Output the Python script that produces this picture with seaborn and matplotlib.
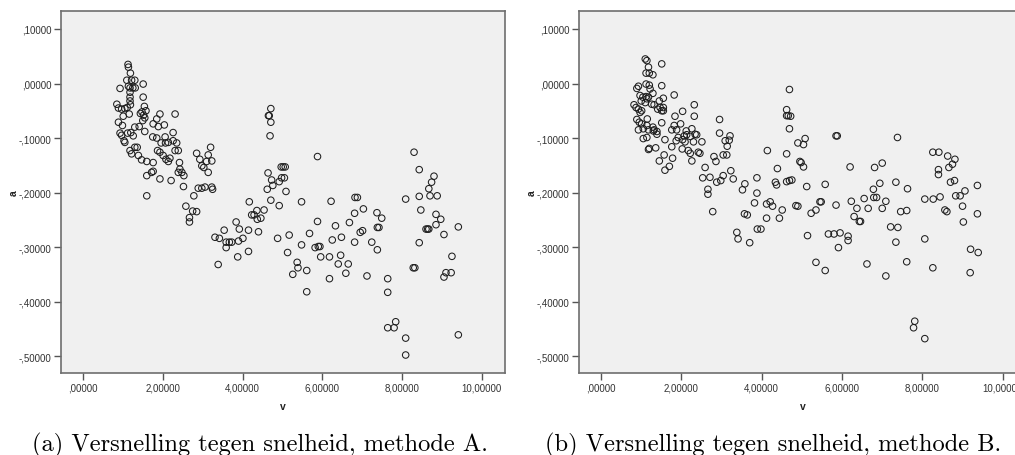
import matplotlib
matplotlib.use("Agg")
import matplotlib.pyplot as plt
import seaborn as sns
import pandas as pd

# ---------------- data ----------------
# Panel (a): methode A
v_a = [1.13, 1.14, 1.19, 1.10, 1.22, 1.30, 0.93, 1.14, 1.18, 1.25,
       1.31, 1.51, 1.18, 1.18, 1.18, 1.19, 1.51, 0.85, 0.89, 0.97,
       1.05, 1.11, 1.01, 1.16, 1.54, 1.58, 1.48, 1.44, 1.52, 1.55,
       1.50, 0.89, 0.99, 0.93, 0.97, 1.03, 1.05, 1.12, 1.20, 1.26,
       1.30, 1.41, 1.55, 1.18, 1.22, 1.30, 1.36, 1.39, 1.47, 1.60,
       1.76, 1.60, 1.72, 1.76, 1.60, 1.76, 1.85, 1.93, 1.89, 2.04,
       2.31, 1.75, 1.85, 2.06, 1.96, 2.07, 2.14, 2.26, 2.35, 2.31,
       2.39, 2.26, 1.87, 1.93, 2.01, 2.08, 2.14, 2.18, 1.93, 2.21,
       2.42, 2.43, 2.48, 2.39, 2.53, 2.52, 2.78, 2.85, 2.93, 2.98,
       3.03, 3.10, 3.14, 3.20, 3.23, 3.14, 2.89, 2.98, 3.06, 3.23,
       3.25, 2.58, 2.75, 2.85, 2.67, 2.67, 3.31, 3.42, 3.54, 3.59,
       3.67, 3.73, 3.59, 3.84, 3.92, 3.90, 4.01, 4.15, 4.15, 3.88,
       3.39, 4.17, 4.23, 4.29, 4.36, 4.37, 4.40, 4.46, 4.54, 4.71,
       4.65, 4.67, 4.71, 4.69, 4.64, 4.62, 4.73, 4.76, 4.71, 4.92,
       4.98, 4.97, 5.02, 5.07, 5.05, 5.09, 4.92, 4.88, 5.17, 5.13,
       5.26, 5.37, 5.39, 5.48, 5.48, 5.61, 5.61, 5.68, 5.88, 5.88,
       5.82, 5.90, 5.94, 5.96, 6.18, 6.18, 6.22, 6.25, 6.33, 6.40,
       6.46, 6.48, 6.59, 6.65, 6.68, 6.81, 6.82, 6.88, 6.81, 6.95,
       7.01, 7.03, 7.12, 7.24, 7.37, 7.38, 7.42, 7.38, 7.49, 7.64,
       7.64, 7.64, 7.80, 7.84, 8.09, 8.09, 8.09, 8.30, 8.28, 8.32,
       8.43, 8.43, 8.47, 8.43, 8.67, 8.74, 8.80, 8.70, 8.88, 8.60,
       8.64, 8.67, 8.85, 8.85, 8.97, 9.05, 9.25, 9.05, 9.10, 9.23,
       9.41, 9.41]
a_a = [0.035, 0.030, 0.019, 0.006, 0.006, 0.006, -0.009, -0.005, -0.008, -0.008,
       -0.008, -0.001, -0.016, -0.025, -0.032, -0.039, -0.025, -0.038, -0.045, -0.047,
       -0.046, -0.044, -0.060, -0.056, -0.042, -0.050, -0.052, -0.055, -0.058, -0.063,
       -0.068, -0.071, -0.077, -0.091, -0.095, -0.105, -0.108, -0.091, -0.090, -0.096,
       -0.080, -0.079, -0.088, -0.123, -0.129, -0.117, -0.117, -0.132, -0.140, -0.143,
       -0.145, -0.169, -0.163, -0.161, -0.206, -0.074, -0.065, -0.056, -0.079, -0.076,
       -0.056, -0.098, -0.100, -0.098, -0.109, -0.109, -0.108, -0.105, -0.109, -0.123,
       -0.123, -0.090, -0.123, -0.126, -0.132, -0.139, -0.143, -0.137, -0.175, -0.178,
       -0.145, -0.157, -0.163, -0.163, -0.169, -0.189, -0.206, -0.128, -0.139, -0.151,
       -0.154, -0.143, -0.131, -0.117, -0.142, -0.163, -0.192, -0.192, -0.190, -0.190,
       -0.194, -0.225, -0.234, -0.235, -0.246, -0.254, -0.282, -0.284, -0.269, -0.291,
       -0.291, -0.291, -0.301, -0.254, -0.267, -0.289, -0.284, -0.269, -0.308, -0.318,
       -0.332, -0.217, -0.241, -0.241, -0.233, -0.249, -0.272, -0.247, -0.232, -0.046,
       -0.059, -0.059, -0.071, -0.096, -0.164, -0.194, -0.177, -0.187, -0.214, -0.180,
       -0.173, -0.153, -0.153, -0.153, -0.173, -0.198, -0.224, -0.284, -0.278, -0.310,
       -0.350, -0.328, -0.338, -0.217, -0.296, -0.343, -0.382, -0.275, -0.134, -0.253,
       -0.301, -0.299, -0.299, -0.318, -0.318, -0.358, -0.216, -0.287, -0.261, -0.331,
       -0.315, -0.282, -0.348, -0.331, -0.255, -0.238, -0.209, -0.209, -0.291, -0.273,
       -0.270, -0.230, -0.353, -0.291, -0.237, -0.264, -0.264, -0.305, -0.247, -0.358,
       -0.383, -0.448, -0.448, -0.437, -0.212, -0.467, -0.498, -0.126, -0.338, -0.338,
       -0.158, -0.207, -0.232, -0.292, -0.193, -0.181, -0.170, -0.206, -0.206, -0.267,
       -0.267, -0.267, -0.240, -0.259, -0.249, -0.277, -0.317, -0.355, -0.347, -0.347,
       -0.263, -0.461]

# Panel (b): methode B
v_b = [1.10, 1.14, 1.51, 1.18, 1.12, 1.20, 1.29, 0.89, 0.93, 1.12,
       1.20, 1.22, 1.51, 0.97, 1.04, 1.12, 1.18, 1.14, 1.29, 1.00,
       1.10, 1.55, 1.45, 1.41, 1.47, 1.55, 1.51, 1.55, 1.32, 1.26,
       0.82, 0.87, 0.93, 0.97, 1.01, 1.82, 0.89, 0.95, 1.01, 0.93,
       1.05, 1.15, 1.14, 1.18, 1.29, 1.32, 1.39, 1.39, 1.30, 1.05,
       1.14, 1.51, 1.20, 1.18, 1.36, 1.59, 1.84, 2.03, 2.32, 2.32,
       1.82, 1.76, 1.88, 1.98, 2.12, 2.07, 1.92, 1.87, 2.03, 2.13,
       2.26, 2.09, 2.22, 2.34, 2.38, 2.30, 2.51, 1.76, 2.02, 2.17,
       2.22, 2.42, 2.46, 2.26, 1.57, 1.45, 1.59, 1.70, 1.78, 2.59,
       2.53, 2.71, 2.81, 2.86, 3.04, 3.13, 2.95, 2.95, 3.09, 3.19,
       3.21, 3.14, 2.88, 2.98, 3.04, 3.23, 3.29, 2.66, 2.66, 3.52,
       3.58, 3.88, 3.88, 4.14, 2.78, 3.57, 3.64, 3.82, 4.12, 4.12,
       3.89, 3.98, 3.38, 3.41, 3.70, 4.69, 4.62, 4.62, 4.66, 4.72,
       4.69, 4.62, 4.90, 5.04, 5.08, 4.95, 4.98, 5.04, 4.39, 4.62,
       4.69, 4.75, 4.34, 4.37, 5.12, 5.58, 4.21, 4.27, 4.51, 4.44,
       4.85, 4.90, 5.23, 5.35, 5.45, 5.48, 5.85, 5.88, 5.14, 5.35,
       5.58, 5.66, 5.80, 5.95, 5.85, 5.91, 6.15, 6.15, 6.20, 6.23,
       6.30, 6.37, 6.43, 6.46, 6.55, 6.62, 6.65, 6.78, 6.81, 6.79,
       6.86, 6.94, 7.00, 7.00, 7.09, 7.09, 7.21, 7.34, 7.34, 7.38,
       7.39, 7.46, 7.61, 7.63, 7.61, 7.78, 7.81, 8.06, 8.06, 8.06,
       8.26, 8.41, 8.27, 8.26, 8.40, 8.40, 8.44, 8.63, 8.66, 8.75,
       8.81, 8.70, 8.80, 8.83, 8.94, 9.06, 8.56, 8.61, 9.00, 9.02,
       9.37, 9.37, 9.20, 9.39, 9.19]
a_b = [0.045, 0.042, 0.036, 0.030, 0.019, 0.019, 0.016, -0.009, -0.005, -0.001,
       -0.003, -0.010, -0.004, -0.022, -0.025, -0.024, -0.025, -0.028, -0.018, -0.032,
       -0.035, -0.027, -0.032, -0.047, -0.044, -0.044, -0.050, -0.050, -0.039, -0.038,
       -0.039, -0.044, -0.047, -0.053, -0.050, -0.021, -0.066, -0.071, -0.074, -0.085,
       -0.083, -0.065, -0.077, -0.085, -0.080, -0.085, -0.088, -0.093, -0.087, -0.101,
       -0.099, -0.072, -0.119, -0.121, -0.118, -0.103, -0.060, -0.051, -0.039, -0.060,
       -0.077, -0.085, -0.085, -0.074, -0.087, -0.096, -0.099, -0.105, -0.103, -0.094,
       -0.083, -0.107, -0.097, -0.093, -0.094, -0.107, -0.107, -0.116, -0.120, -0.123,
       -0.128, -0.126, -0.128, -0.142, -0.131, -0.142, -0.159, -0.152, -0.137, -0.154,
       -0.173, -0.172, -0.134, -0.143, -0.131, -0.131, -0.066, -0.091, -0.105, -0.104,
       -0.096, -0.115, -0.181, -0.178, -0.169, -0.160, -0.175, -0.194, -0.203, -0.195,
       -0.184, -0.173, -0.201, -0.123, -0.235, -0.239, -0.241, -0.219, -0.221, -0.247,
       -0.267, -0.267, -0.273, -0.285, -0.292, -0.011, -0.048, -0.059, -0.059, -0.060,
       -0.083, -0.129, -0.109, -0.112, -0.101, -0.143, -0.145, -0.153, -0.156, -0.180,
       -0.178, -0.177, -0.181, -0.186, -0.189, -0.185, -0.217, -0.225, -0.232, -0.247,
       -0.224, -0.225, -0.238, -0.232, -0.217, -0.217, -0.096, -0.096, -0.279, -0.328,
       -0.343, -0.276, -0.276, -0.274, -0.223, -0.301, -0.280, -0.288, -0.153, -0.216,
       -0.244, -0.229, -0.253, -0.253, -0.211, -0.331, -0.229, -0.194, -0.154, -0.209,
       -0.209, -0.183, -0.146, -0.229, -0.216, -0.353, -0.263, -0.181, -0.291, -0.099,
       -0.264, -0.235, -0.233, -0.193, -0.327, -0.448, -0.436, -0.468, -0.212, -0.285,
       -0.126, -0.126, -0.212, -0.338, -0.158, -0.167, -0.208, -0.133, -0.154, -0.148,
       -0.139, -0.181, -0.178, -0.206, -0.206, -0.197, -0.232, -0.235, -0.225, -0.254,
       -0.187, -0.239, -0.304, -0.310, -0.347]

x_ticks = [0, 2, 4, 6, 8, 10]
x_tick_labels = [",00000", "2,00000", "4,00000", "6,00000", "8,00000", "10,00000"]
y_ticks = [0.1, 0.0, -0.1, -0.2, -0.3, -0.4, -0.5]
y_tick_labels = [",10000", ",00000", "-,10000", "-,20000", "-,30000", "-,40000", "-,50000"]
x_label = "v"
y_label = "a"
captions = ["(a) Versnelling tegen snelheid, methode A.",
            "(b) Versnelling tegen snelheid, methode B."]

# ---------------- figure ----------------
sns.set_theme(style="ticks")
plt.rcParams["font.family"] = ["Liberation Sans", "DejaVu Sans"]

W, H = 1015, 456
fig = plt.figure(figsize=(W / 100, H / 100), dpi=100)
fig.patch.set_facecolor("white")


def px_axes(l, t, r, b):
    return fig.add_axes([l / W, 1 - b / H, (r - l) / W, (b - t) / H])


axes = [px_axes(61, 12, 505, 374), px_axes(579, 12, 1026, 374)]
datasets = [(v_a, a_a), (v_b, a_b)]

for ax, (vv, aa) in zip(axes, datasets):
    df = pd.DataFrame({"v": vv, "a": aa})
    sns.scatterplot(data=df, x="v", y="a", ax=ax, s=22, linewidth=0.75,
                    legend=False, zorder=3)
    coll = ax.collections[-1]
    coll.set_facecolor("none")
    coll.set_edgecolor("#1e1e1e")

    ax.set_facecolor("#F0F0F0")
    ax.set_xlim(-0.55, 10.58)
    ax.set_ylim(-0.531, 0.133)
    ax.set_xticks(x_ticks)
    ax.set_xticklabels(x_tick_labels)
    ax.set_yticks(y_ticks)
    ax.set_yticklabels(y_tick_labels)
    ax.tick_params(direction="out", length=5, width=1.0, color="#555555",
                   labelsize=7, labelcolor="#333333", pad=2)
    for sp in ax.spines.values():
        sp.set_visible(True)
        sp.set_color("#6e6e6e")
        sp.set_linewidth(1.2)
    ax.grid(False)

    ax.set_xlabel(x_label, fontsize=7.5, fontweight="bold", color="#222222")
    ax.xaxis.set_label_coords(0.5, -(402 - 374) / 362)
    ax.set_ylabel(y_label, fontsize=7.5, fontweight="bold", color="#222222")

axes[0].yaxis.set_label_coords((19 - 61) / 444, 0.5)
axes[1].yaxis.set_label_coords((537 - 579) / 447, 0.5)

fig.text(259.5 / W, 1 - 451.7 / H, captions[0], ha="center", va="baseline",
         fontfamily="cmr10", fontsize=17.6, color="black")
fig.text(773.5 / W, 1 - 451.7 / H, captions[1], ha="center", va="baseline",
         fontfamily="cmr10", fontsize=17.6, color="black")

fig.savefig("out.png", dpi=100)
